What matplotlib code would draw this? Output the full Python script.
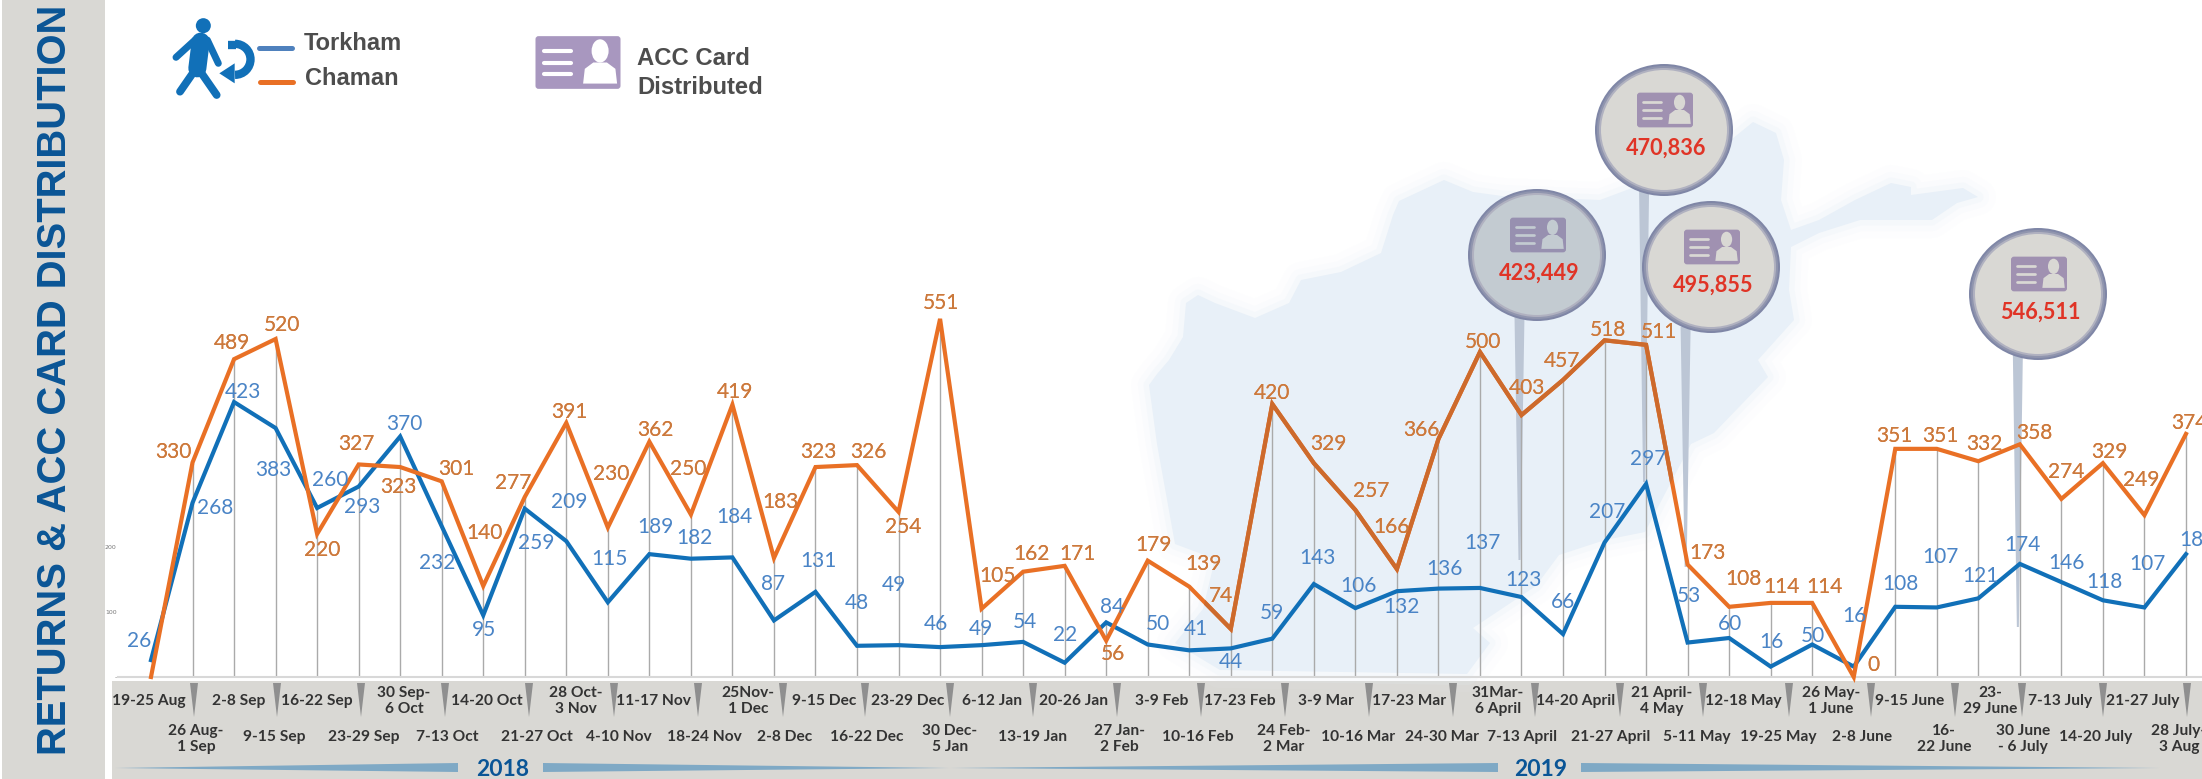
import numpy as np
import matplotlib
matplotlib.use('Agg')
import matplotlib.pyplot as plt
from matplotlib.patches import Polygon, Ellipse, FancyBboxPatch, Circle, Arc, Rectangle

W, H = 2202, 779

# ---- data
weeks = ['19-25 Aug', '26 Aug-\n1 Sep', '2-8 Sep', '9-15 Sep', '16-22 Sep', '23-29 Sep', '30 Sep-\n6 Oct',
         '7-13 Oct', '14-20 Oct', '21-27 Oct', '28 Oct-\n3 Nov', '4-10 Nov', '11-17 Nov', '18-24 Nov',
         '25Nov-\n1 Dec', '2-8 Dec', '9-15 Dec', '16-22 Dec', '23-29 Dec', '30 Dec-\n5 Jan', '6-12 Jan',
         '13-19 Jan', '20-26 Jan', '27 Jan-\n2 Feb', '3-9 Feb', '10-16 Feb', '17-23 Feb', '24 Feb-\n2 Mar',
         '3-9 Mar', '10-16 Mar', '17-23 Mar', '24-30 Mar', '31Mar-\n6 April', '7-13 April', '14-20 April',
         '21-27 April', '21 April-\n4 May', '5-11 May', '12-18 May', '19-25 May', '26 May-\n1 June',
         '2-8 June', '9-15 June', '16-\n22 June', '23-\n29 June', '30 June\n- 6 July', '7-13 July',
         '14-20 July', '21-27 July', '28 July-\n3 Aug']
torkham = [26, 268, 423, 383, 260, 293, 370, 232, 95, 259, 209, 115, 189, 182, 184, 87, 131, 48, 49, 46,
           49, 54, 22, 84, 50, 41, 44, 59, 143, 106, 132, 136, 137, 123, 66, 207, 297, 53, 60, 16,
           50, 16, 108, 107, 121, 174, 146, 118, 107, 189]
chaman = [0, 330, 489, 520, 220, 327, 323, 301, 140, 277, 391, 230, 362, 250, 419, 183, 323, 326, 254, 551,
          105, 162, 171, 56, 179, 139, 74, 420, 329, 257, 166, 366, 500, 403, 457, 518, 511, 173, 108, 114,
          114, 0, 351, 351, 332, 358, 274, 329, 249, 374]
acc_week = [33, 36, 37, 45]
acc_cards = ['423,449', '470,836', '495,855', '546,511']

# ---- placement, in reference pixels
x0, dx = 151, 41.53
y0, dy = 677, 0.65
torkham_lab = [(139, 641), (215, 508), (243, 392), (273, 470), (330, 480), (362, 507), (404, 424), (437, 563),
               (484, 630), (536, 543), (569, 502), (609, 559), (655, 527), (694, 538), (734, 517), (773, 584),
               (818, 561), (857, 603), (894, 585), (936, 624), (981, 629), (1025, 622), (1065, 635), (1112, 607),
               (1158, 624), (1196, 629), (1231, 662), (1272, 613), (1317, 558), (1358, 586), (1401, 607),
               (1444, 569), (1482, 543), (1523, 580), (1563, 602), (1607, 512), (1648, 459), (1689, 596),
               (1730, 624), (1771, 642), (1813, 636), (1854, 616), (1900, 584), (1940, 557), (1980, 576),
               (2022, 545), (2066, 563), (2104, 582), (2147, 564), (2197, 540)]
chaman_lab = [None, (173, 452), (232, 343), (282, 325), (322, 550), (356, 444), (398, 487), (456, 469), (484, 533),
              (513, 483), (569, 412), (611, 474), (655, 430), (688, 469), (735, 392), (780, 502), (818, 452),
              (868, 452), (903, 527), (941, 303), (997, 576), (1031, 554), (1077, 554), (1113, 654), (1153, 545),
              (1203, 564), (1221, 596), (1272, 393), (1328, 444), (1371, 491), (1391, 527), (1421, 430),
              (1483, 342), (1527, 388), (1562, 361), (1608, 330), (1659, 332), (1707, 553), (1743, 579),
              (1781, 587), (1824, 587), (1873, 665), (1894, 436), (1940, 436), (1984, 444), (2034, 433),
              (2066, 472), (2109, 452), (2141, 480), (2189, 423)]
week_x = [149, 196, 239, 274, 317, 364, 404, 447, 487, 537, 576, 619, 653, 704, 748, 785, 824, 867, 908, 950,
          992, 1033, 1074, 1119, 1162, 1198, 1240, 1284, 1326, 1358, 1409, 1442, 1498, 1522, 1576, 1611, 1662,
          1697, 1743, 1778, 1831, 1862, 1910, 1944, 1990, 2023, 2060, 2096, 2143, 2179]
marker_x = [194, 277, 361, 445, 529, 614, 698, 783, 865, 950, 1033, 1117, 1201, 1285, 1369, 1453, 1535, 1620,
            1703, 1789, 1871, 1955, 2022, 2103, 2187]
balloons = [(1537, 255), (1664, 130), (1711, 267), (2038, 294)]
pin_end = [560, 482, 567, 627]
map_outline = [(1149, 385), (1157, 374), (1169, 360), (1183, 337), (1186, 303), (1198, 295), (1215, 303),
               (1255, 318), (1289, 303), (1301, 280), (1341, 272), (1381, 253), (1393, 215), (1399, 201),
               (1444, 180), (1473, 192), (1502, 196), (1600, 200), (1640, 185), (1700, 165), (1753, 122),
               (1776, 133), (1784, 160), (1781, 200), (1791, 230), (1819, 220), (1855, 200), (1891, 183),
               (1911, 187), (1911, 195), (1963, 188), (1978, 197), (1957, 203), (1932, 220), (1860, 220),
               (1819, 233), (1791, 247), (1789, 290), (1794, 320), (1758, 360), (1768, 377), (1714, 433),
               (1691, 444), (1645, 532), (1605, 540), (1559, 555), (1536, 586), (1473, 628), (1490, 643),
               (1467, 674), (1220, 670), (1175, 643), (1203, 609), (1215, 559), (1175, 544), (1157, 444)]

BLUE = '#1170b8'
ORANGE = '#e97025'
BLUE_TXT = '#4a84c6'
ORANGE_TXT = '#e8722a'
GREY = '#d9d8d4'
TITLE = '#0a5596'
TXT = '#4d4d4d'
PURPLE = '#a897bf'
MAP = '#e8f0f8'
NUM_FONT = ['Lato', 'DejaVu Sans']
HEAD_FONT = ['Liberation Sans', 'DejaVu Sans']

fig = plt.figure(figsize=(W / 100, H / 100), dpi=100, facecolor='white')


def px_axes(z):
    a = fig.add_axes([0, 0, 1, 1], zorder=z)
    a.set_xlim(0, W)
    a.set_ylim(H, 0)
    a.axis('off')
    a.patch.set_alpha(0)
    return a


bg = px_axes(0)
top = px_axes(2)

# panels
bg.add_patch(Rectangle((2, 0), 103, H, fc=GREY, ec='none'))
bg.add_patch(Rectangle((112, 681), W - 112, H - 681, fc=GREY, ec='none'))
bg.text(55, 380, 'RETURNS & ACC CARD DISTRIBUTION', rotation=90, ha='center', va='center',
        family=HEAD_FONT, fontweight='bold', fontsize=28.8, color=TITLE)

# map
for lw, al in [(26, 0.08), (16, 0.14), (8, 0.25)]:
    bg.add_patch(Polygon(map_outline, closed=True, fc='none', ec=MAP, lw=lw, alpha=al, joinstyle='round', zorder=1))
map_patch = Polygon(map_outline, closed=True, fc=MAP, ec='none', zorder=1.1)
bg.add_patch(map_patch)


def card(a, cx, cy, w, face, stripe, z):
    h = w * 0.62
    a.add_patch(FancyBboxPatch((cx - w / 2 + 3, cy - h / 2 + 3), w - 6, h - 6, boxstyle='round,pad=3', fc=face, ec='none', zorder=z))
    for k in (-0.22, 0, 0.22):
        a.plot([cx - w * 0.40, cx - w * 0.08], [cy + k * h, cy + k * h], color=stripe, lw=w * 0.035, solid_capstyle='round', zorder=z + 0.1)
    a.add_patch(Ellipse((cx + w * 0.26, cy - h * 0.22), w * 0.2, h * 0.44, fc=stripe, ec='none', zorder=z + 0.1))
    a.add_patch(Polygon([(cx + w * 0.06, cy + h * 0.4), (cx + w * 0.08, cy + h * 0.12), (cx + w * 0.18, cy + h * 0.0),
                         (cx + w * 0.34, cy + h * 0.0), (cx + w * 0.44, cy + h * 0.12), (cx + w * 0.46, cy + h * 0.4)],
                        closed=True, fc=stripe, ec='none', zorder=z + 0.1))


# balloons and their pins
for i, (wk, (bx, by)) in enumerate(zip(acc_week, balloons)):
    px = x0 + wk * dx - 2
    end = pin_end[i]
    bg.add_patch(Polygon([(px - 5, by + 60), (px + 5, by + 60), (px + 1, end), (px - 1, end)], closed=True, fc='#bcc6d5', ec='none', zorder=2))
for i, (bx, by) in enumerate(balloons):
    fill = '#c3cbd1' if i == 0 else GREY
    for rx, ry, col in [(69, 66, '#7f86a6'), (67, 64, '#9095ae'), (65, 62, '#b0b1c0')]:
        bg.add_patch(Ellipse((bx, by), rx * 2, ry * 2, fc=col, ec='none', zorder=3))
    bg.add_patch(Ellipse((bx, by), 126, 120, fc=fill, ec='none', zorder=3.1))
    card(bg, bx + 1, by - 20, 56, '#a091b1' if i else '#9790b0', fill, 3.2)
    bg.text(bx + 2, by + 18, acc_cards[i], ha='center', va='center', family=NUM_FONT, fontweight='bold',
            fontsize=15.6, color='#e03426', zorder=3.5)

# legend
card(bg, 578, 62.5, 85, PURPLE, 'white', 2)
bg.text(637, 58, 'ACC Card', ha='left', va='center', family=HEAD_FONT, fontweight='bold', fontsize=17.2, color=TXT)
bg.text(637, 87, 'Distributed', ha='left', va='center', family=HEAD_FONT, fontweight='bold', fontsize=17.2, color=TXT)
bg.plot([259, 292], [48, 48], color='#4f81bd', lw=3.6, solid_capstyle='round')
bg.plot([260, 293], [82, 82], color=ORANGE, lw=3.6, solid_capstyle='round')
bg.text(304, 43, 'Torkham', ha='left', va='center', family=HEAD_FONT, fontweight='bold', fontsize=17, color=TXT)
bg.text(305, 78, 'Chaman', ha='left', va='center', family=HEAD_FONT, fontweight='bold', fontsize=17, color=TXT)


def zm(x, y):
    return x / 3 + 160, y / 3 + 10


bg.add_patch(Circle(zm(130, 47), 7.5, fc=BLUE, ec='none'))
for pts, lw in [([(105, 90), (48, 142)], 5), ([(142, 90), (175, 160)], 5), ([(122, 95), (112, 175)], 13),
                ([(105, 180), (60, 245)], 5.6), ([(118, 180), (170, 255)], 5.6)]:
    bg.plot(*zip(*[zm(*p) for p in pts]), color=BLUE, lw=lw, solid_capstyle='round')
bg.add_patch(Arc(zm(225, 148), 31, 31, theta1=-90, theta2=90, angle=0, color=BLUE, lw=6))
bg.plot(*zip(*[zm(205, 104), zm(228, 104)]), color=BLUE, lw=6, solid_capstyle='butt')
bg.add_patch(Polygon([zm(178, 190), zm(224, 160), zm(224, 220)], closed=True, fc=BLUE, ec='none'))

# bottom strip: week markers and year ribbons
for mx in marker_x:
    bg.add_patch(Polygon([(mx - 4, 683), (mx + 4, 683), (mx, 717)], closed=True, fc='#8f8f8f', ec='none'))
for rib in ([(115, 768), (458, 763), (458, 772)], [(543, 763), (543, 772), (950, 768)],
            [(950, 768), (1498, 763), (1498, 772)], [(1581, 763), (1581, 772), (2160, 768)]):
    bg.add_patch(Polygon(rib, closed=True, fc='#7fa9c5', ec='none'))
for yr, yx in [('2018', 503), ('2019', 1541)]:
    bg.text(yx, 769, yr, ha='center', va='center', family=NUM_FONT, fontweight='bold', fontsize=16.5, color=TITLE)
for i, (wk, wx) in enumerate(zip(weeks, week_x)):
    wy = 701 if i % 2 == 0 else 737
    if '\n' in wk and i % 2:
        wy = 739
    bg.text(wx, wy, wk, ha='center', va='center', family=NUM_FONT, fontweight='bold', fontsize=11.2,
            color='#333333', linespacing=1.15)

# chart itself
ax = fig.add_axes([118 / W, (H - y0) / H, (W - 118) / W, y0 / H], zorder=1)
ax.patch.set_alpha(0)
ax.set_xlim((118 - x0) / dx, (W - x0) / dx)
ax.set_ylim(0, y0 / dy)
wk_pos = np.arange(len(torkham))
ax.vlines(wk_pos[1:], 0, np.maximum(torkham, chaman)[1:], color='#aaaaaa', lw=1, zorder=1)
ax.plot(wk_pos, torkham, color=BLUE, lw=3, clip_on=False, solid_joinstyle='miter', zorder=3)
ax.plot(wk_pos, chaman, color=ORANGE, lw=3, clip_on=False, solid_joinstyle='miter', zorder=4)
dark = ax.plot(wk_pos, chaman, color='#cd6a2c', lw=3, solid_joinstyle='miter', zorder=5)[0]
dark.set_clip_path(map_patch)
ax.set_xticks([])
ax.set_yticks([0, 100, 200])
ax.set_yticklabels(['-', '100', '200'], fontsize=4.5, color='#777777')
ax.tick_params(axis='y', length=0, pad=1)
for s in ['top', 'right', 'left']:
    ax.spines[s].set_visible(False)
ax.spines['bottom'].set_color('#d8d8d8')
ax.spines['bottom'].set_linewidth(1.5)

# value labels
for v, xy in zip(torkham, torkham_lab):
    top.text(xy[0], xy[1], str(v), ha='center', va='center', family=NUM_FONT, fontsize=15, color=BLUE_TXT, clip_on=True)
for v, xy in zip(chaman, chaman_lab):
    if xy is None:
        continue
    top.text(xy[0], xy[1], str(v), ha='center', va='center', family=NUM_FONT, fontsize=15, color=ORANGE_TXT, clip_on=True)
    t = top.text(xy[0], xy[1], str(v), ha='center', va='center', family=NUM_FONT, fontsize=15, color='#c97a3e', clip_on=True)
    t.set_clip_path(map_patch)

fig.savefig('out.png', dpi=100)
